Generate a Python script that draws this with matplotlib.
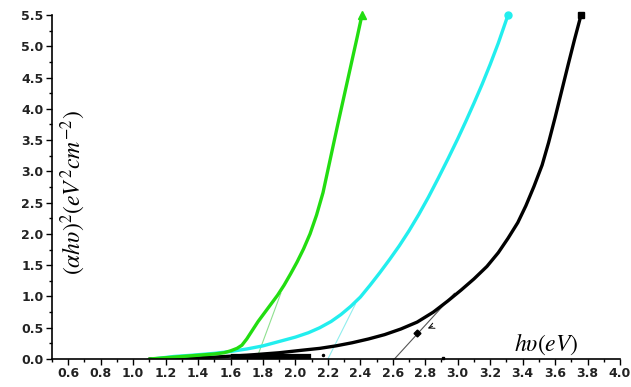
import matplotlib
matplotlib.use("Agg")
import matplotlib.pyplot as plt
from matplotlib.ticker import MultipleLocator, FormatStrFormatter

plt.rcParams['mathtext.fontset'] = 'stix'

# кривые Тауца (x: hv в эВ, y: (ahv)^2)
green_x = [1.10, 1.20, 1.30, 1.40, 1.50, 1.56, 1.60, 1.64, 1.67, 1.70, 1.73,
           1.77, 1.81, 1.85, 1.89, 1.93, 1.97, 2.01, 2.05, 2.09, 2.13, 2.17,
           2.20, 2.23, 2.26, 2.29, 2.32, 2.35, 2.38, 2.41]
green_y = [0.00, 0.02, 0.04, 0.06, 0.08, 0.10, 0.13, 0.17, 0.22, 0.32, 0.44,
           0.60, 0.74, 0.88, 1.02, 1.18, 1.36, 1.55, 1.76, 2.00, 2.30, 2.66,
           3.02, 3.38, 3.74, 4.09, 4.44, 4.79, 5.14, 5.50]

cyan_x = [1.12, 1.25, 1.36, 1.50, 1.60, 1.70, 1.80, 1.90, 2.00, 2.08, 2.15,
          2.22, 2.28, 2.34, 2.40, 2.46, 2.52, 2.58, 2.64, 2.70, 2.76, 2.82,
          2.88, 2.94, 3.00, 3.05, 3.10, 3.15, 3.20, 3.25, 3.31]
cyan_y = [0.00, 0.04, 0.06, 0.09, 0.12, 0.16, 0.21, 0.28, 0.35, 0.42, 0.50,
          0.60, 0.71, 0.84, 0.99, 1.18, 1.38, 1.59, 1.81, 2.05, 2.31, 2.59,
          2.89, 3.20, 3.52, 3.80, 4.09, 4.39, 4.71, 5.05, 5.50]

black_x = [1.10, 1.30, 1.50, 1.70, 1.90, 2.04, 2.15, 2.25, 2.35, 2.45, 2.55,
           2.65, 2.75, 2.85, 2.94, 3.02, 3.10, 3.18, 3.25, 3.31, 3.37, 3.42,
           3.47, 3.52, 3.56, 3.60, 3.64, 3.68, 3.72, 3.76]
black_y = [0.00, 0.01, 0.03, 0.06, 0.10, 0.14, 0.17, 0.21, 0.26, 0.32, 0.39,
           0.48, 0.59, 0.75, 0.93, 1.10, 1.28, 1.48, 1.70, 1.93, 2.18, 2.45,
           2.76, 3.10, 3.46, 3.86, 4.28, 4.70, 5.11, 5.50]

# касательные (экстраполяция к оси)
green_fit_x = [1.76, 1.91]
green_fit_y = [0.00, 1.05]
cyan_fit_x = [2.20, 2.37]
cyan_fit_y = [0.00, 0.88]
black_fit_x = [2.61, 2.98]
black_fit_y = [0.00, 1.05]

# плотный участок чёрных точек у оси
band_x = [1.62, 2.08]
band_y = [0.03, 0.03]

fig = plt.figure(figsize=(6.31, 3.87), dpi=100)
ax = fig.add_axes([52 / 631, 28 / 387, 568 / 631, 344 / 387])

ax.plot(green_fit_x, green_fit_y, color='#8fe08f', lw=0.8)
ax.plot(cyan_fit_x, cyan_fit_y, color='#8feeee', lw=0.8)
ax.plot(black_fit_x, black_fit_y, color='#555555', lw=0.8)

ax.plot(black_x, black_y, color='black', lw=2.4, solid_capstyle='round', solid_joinstyle='round')
ax.plot(band_x, band_y, color='black', lw=4.5)
ax.plot(cyan_x, cyan_y, color='#22eeee', lw=2.4, solid_capstyle='round', solid_joinstyle='round')
ax.plot(green_x, green_y, color='#22dd11', lw=2.4, solid_capstyle='round', solid_joinstyle='round')

# маркеры на концах кривых
ax.plot(green_x[-1], green_y[-1], marker='^', color='#22dd11', ms=6, clip_on=False)
ax.plot(cyan_x[-1], cyan_y[-1], marker='o', color='#22eeee', ms=5, clip_on=False)
ax.plot(black_x[-1], black_y[-1], marker='s', color='black', ms=4.5, clip_on=False)

# мелкие метки
ax.plot(2.75, 0.42, marker='D', color='black', ms=3.5)
ax.annotate('', xy=(2.80, 0.47), xytext=(2.86, 0.54),
            arrowprops=dict(arrowstyle='->', color='black', lw=0.7))
ax.plot(2.91, 0.02, marker='s', color='black', ms=2, clip_on=False)
ax.plot(2.17, 0.06, marker='.', color='black', ms=3)

ax.text(3.545, 0.03, r'$h\upsilon(eV)$', fontsize=17, ha='center', va='bottom')
ax.text(0.63, 2.66, r'$(\alpha h\upsilon)^2(eV^2cm^{-2})$', fontsize=17,
        rotation=90, ha='center', va='center')

ax.set_xlim(0.5, 4.0)
ax.set_ylim(0.0, 5.5)
ax.xaxis.set_major_locator(MultipleLocator(0.2))
ax.xaxis.set_minor_locator(MultipleLocator(0.1))
ax.yaxis.set_major_locator(MultipleLocator(0.5))
ax.yaxis.set_minor_locator(MultipleLocator(0.25))
ax.xaxis.set_major_formatter(FormatStrFormatter('%.1f'))
ax.yaxis.set_major_formatter(FormatStrFormatter('%.1f'))
ax.set_xticks([0.6 + 0.2 * i for i in range(18)])

ax.tick_params(which='major', direction='out', length=4, width=1, labelsize=9, pad=2)
ax.tick_params(which='minor', direction='out', length=2.5, width=1)
for lab in ax.get_xticklabels() + ax.get_yticklabels():
    lab.set_fontweight('bold')
    lab.set_color('#222222')

ax.spines['top'].set_visible(False)
ax.spines['right'].set_visible(False)
ax.spines['left'].set_linewidth(1.2)
ax.spines['bottom'].set_linewidth(1.2)

fig.savefig('out.png', dpi=100)
